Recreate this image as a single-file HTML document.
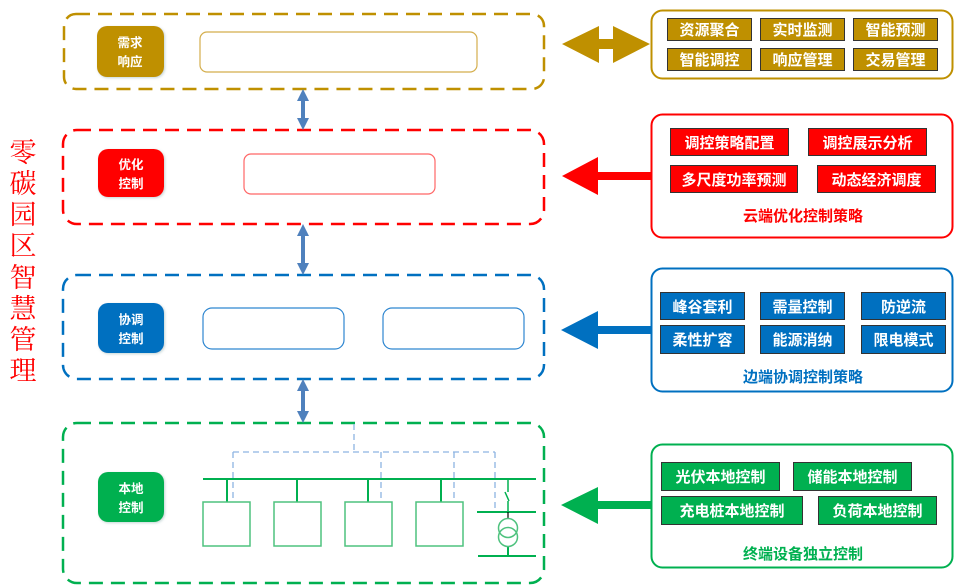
<!DOCTYPE html>
<html><head><meta charset="utf-8"><style>
html,body{margin:0;padding:0;background:#fff;}
svg{display:block;}
text{font-family:"Liberation Sans","Noto Sans CJK SC",sans-serif;}
.it{font-weight:bold;fill:#fff;font-size:15px;}
.lb{font-weight:bold;fill:#fff;font-size:12.5px;}
</style></head><body>
<svg width="957" height="587" viewBox="0 0 957 587" xmlns="http://www.w3.org/2000/svg">
<defs>
<filter id="sh" x="-20%" y="-20%" width="140%" height="140%"><feDropShadow dx="1" dy="1" stdDeviation="1.2" flood-color="#8aa" flood-opacity="0.5"/></filter>
</defs>
<!-- left vertical text -->
<g font-family="'Noto Serif CJK SC','Liberation Serif',serif" font-size="27" fill="#ff0000" text-anchor="middle">
<text x="23" y="162" style="font-family:'Noto Serif CJK SC',serif">零</text>
<text x="23" y="193" style="font-family:'Noto Serif CJK SC',serif">碳</text>
<text x="23" y="224" style="font-family:'Noto Serif CJK SC',serif">园</text>
<text x="23" y="255" style="font-family:'Noto Serif CJK SC',serif">区</text>
<text x="23" y="287" style="font-family:'Noto Serif CJK SC',serif">智</text>
<text x="23" y="318" style="font-family:'Noto Serif CJK SC',serif">慧</text>
<text x="23" y="349" style="font-family:'Noto Serif CJK SC',serif">管</text>
<text x="23" y="380" style="font-family:'Noto Serif CJK SC',serif">理</text>
</g>

<!-- dashed containers -->
<g fill="none" stroke-width="2.5" stroke-dasharray="14,8">
<rect x="64" y="14" width="480" height="75" rx="12" stroke="#bf9000"/>
<rect x="63" y="130" width="481" height="94" rx="14" stroke="#ff0000"/>
<rect x="63" y="275" width="481" height="104" rx="14" stroke="#0070c0"/>
<rect x="63" y="423" width="481" height="160" rx="14" stroke="#00b050"/>
</g>

<!-- label boxes -->
<rect x="97" y="26" width="67" height="51" rx="10" fill="#bf9000" filter="url(#sh)"/>
<text class="lb" x="130" y="47" text-anchor="middle">需求</text><text class="lb" x="130" y="66" text-anchor="middle">响应</text>
<rect x="98" y="149" width="66" height="48" rx="10" fill="#ff0000" filter="url(#sh)"/>
<text class="lb" x="131" y="169" text-anchor="middle">优化</text><text class="lb" x="131" y="188" text-anchor="middle">控制</text>
<rect x="98" y="303" width="66" height="50" rx="10" fill="#0070c0" filter="url(#sh)"/>
<text class="lb" x="131" y="324" text-anchor="middle">协调</text><text class="lb" x="131" y="343" text-anchor="middle">控制</text>
<rect x="98" y="472" width="66" height="50" rx="10" fill="#00b050" filter="url(#sh)"/>
<text class="lb" x="131" y="493" text-anchor="middle">本地</text><text class="lb" x="131" y="512" text-anchor="middle">控制</text>

<!-- inner boxes -->
<rect x="200" y="32" width="277" height="40" rx="7" fill="#fff" stroke="#d4ae4c" stroke-width="1.2"/>
<rect x="244" y="154" width="191" height="40" rx="7" fill="#fff" stroke="#ff6666" stroke-width="1.2"/>
<rect x="203" y="308" width="141" height="41" rx="9" fill="#fff" stroke="#2e86d0" stroke-width="1.2"/>
<rect x="383" y="308" width="141" height="41" rx="9" fill="#fff" stroke="#2e86d0" stroke-width="1.2"/>

<!-- vertical double arrows -->
<g fill="#4f81bd">
<path d="M303,89 L309,101 L305,101 L305,118 L309,118 L303,130 L297,118 L301,118 L301,101 L297,101 Z"/>
<path d="M303,224 L309,236 L305,236 L305,263 L309,263 L303,275 L297,263 L301,263 L301,236 L297,236 Z"/>
<path d="M303,379 L309,391 L305,391 L305,411 L309,411 L303,423 L297,411 L301,411 L301,391 L297,391 Z"/>
</g>

<!-- local control diagram -->
<g fill="none" stroke="#8db4e2" stroke-width="1.3" stroke-dasharray="6,4">
<path d="M354,424 V452 M233,452 H495 M233,452 V502 M381,452 V502 M454,452 V502 M495,452 V512"/>
</g>
<g stroke="#00b050" stroke-width="2" fill="none">
<path d="M203,479 H536"/>
<path d="M227,479 V502 M297,479 V502 M368,479 V502 M441,479 V502"/>
<path d="M508,479 V492 M505,492 L509,501 M508,501 V512" stroke-width="1.5"/>
<path d="M477,512 H536 M478,556 H536 M508,546 V556"/>
</g>
<path d="M508,512 V518" stroke="#000" stroke-width="1.2"/>
<g fill="none" stroke="#4ec27e" stroke-width="1.5">
<rect x="203" y="502" width="47" height="44"/>
<rect x="274" y="502" width="47" height="44"/>
<rect x="345" y="502" width="47" height="44"/>
<rect x="416" y="502" width="47" height="44"/>
<circle cx="508" cy="528" r="9.5"/>
<circle cx="508" cy="537" r="9.5"/>
</g>

<!-- right side arrows -->
<path d="M562,44 L599,26 L599,39 L613,39 L613,26 L650,44 L613,63 L613,49 L599,49 L599,63 Z" fill="#bf9000"/>
<path d="M562,176 L598,157 L598,172 L651,172 L651,180 L598,180 L598,195 Z" fill="#ff0000"/>
<path d="M561,330 L598,311 L598,326 L651,326 L651,334 L598,334 L598,349 Z" fill="#0070c0"/>
<path d="M561,505 L598,487 L598,501 L651,501 L651,509 L598,509 L598,524 Z" fill="#00b050"/>

<!-- right boxes -->
<rect x="651.5" y="10.5" width="301" height="68" rx="11" fill="#fff" stroke="#bf9000" stroke-width="2"/>
<rect x="651.5" y="114.5" width="301" height="123" rx="11" fill="#fff" stroke="#ff0000" stroke-width="2"/>
<rect x="651.5" y="268.5" width="301" height="123" rx="11" fill="#fff" stroke="#0070c0" stroke-width="2"/>
<rect x="651.5" y="444.5" width="301" height="123" rx="11" fill="#fff" stroke="#00b050" stroke-width="2"/>

<g stroke="#333" stroke-width="1">
<rect x="667.5" y="18.5" width="84" height="22" fill="#bf9000"/>
<rect x="760.5" y="18.5" width="84" height="22" fill="#bf9000"/>
<rect x="853.5" y="18.5" width="84" height="22" fill="#bf9000"/>
<rect x="667.5" y="48.5" width="84" height="22" fill="#bf9000"/>
<rect x="760.5" y="48.5" width="84" height="22" fill="#bf9000"/>
<rect x="853.5" y="48.5" width="84" height="22" fill="#bf9000"/>

<rect x="670.5" y="128.5" width="118" height="27" fill="#ff0000"/>
<rect x="808.5" y="128.5" width="118" height="27" fill="#ff0000"/>
<rect x="670.5" y="165.5" width="127" height="27" fill="#ff0000"/>
<rect x="817.5" y="165.5" width="118" height="27" fill="#ff0000"/>

<rect x="660.5" y="292.5" width="84" height="27" fill="#0070c0"/>
<rect x="760.5" y="292.5" width="84" height="27" fill="#0070c0"/>
<rect x="861.5" y="292.5" width="84" height="27" fill="#0070c0"/>
<rect x="660.5" y="325.5" width="84" height="28" fill="#0070c0"/>
<rect x="760.5" y="325.5" width="84" height="28" fill="#0070c0"/>
<rect x="861.5" y="325.5" width="84" height="28" fill="#0070c0"/>

<rect x="661.5" y="462.5" width="118" height="28" fill="#00b050"/>
<rect x="793.5" y="462.5" width="118" height="28" fill="#00b050"/>
<rect x="661.5" y="496.5" width="141" height="28" fill="#00b050"/>
<rect x="818.5" y="496.5" width="118" height="28" fill="#00b050"/>
</g>

<g class="it" text-anchor="middle">
<text class="it" x="709.5" y="35">资源聚合</text>
<text class="it" x="802.5" y="35">实时监测</text>
<text class="it" x="895.5" y="35">智能预测</text>
<text class="it" x="709.5" y="65">智能调控</text>
<text class="it" x="802.5" y="65">响应管理</text>
<text class="it" x="895.5" y="65">交易管理</text>

<text class="it" x="729.5" y="148">调控策略配置</text>
<text class="it" x="867.5" y="148">调控展示分析</text>
<text class="it" x="734" y="185">多尺度功率预测</text>
<text class="it" x="876.5" y="185">动态经济调度</text>

<text class="it" x="702.5" y="312">峰谷套利</text>
<text class="it" x="802.5" y="312">需量控制</text>
<text class="it" x="903.5" y="312">防逆流</text>
<text class="it" x="702.5" y="345">柔性扩容</text>
<text class="it" x="802.5" y="345">能源消纳</text>
<text class="it" x="903.5" y="345">限电模式</text>

<text class="it" x="720.5" y="482">光伏本地控制</text>
<text class="it" x="852.5" y="482">储能本地控制</text>
<text class="it" x="732" y="516">充电桩本地控制</text>
<text class="it" x="877.5" y="516">负荷本地控制</text>
</g>

<text x="803" y="221" text-anchor="middle" font-weight="bold" font-size="15" fill="#ff0000">云端优化控制策略</text>
<text x="803" y="382" text-anchor="middle" font-weight="bold" font-size="15" fill="#0070c0">边端协调控制策略</text>
<text x="803" y="559" text-anchor="middle" font-weight="bold" font-size="15" fill="#00b050">终端设备独立控制</text>
</svg>
</body></html>
